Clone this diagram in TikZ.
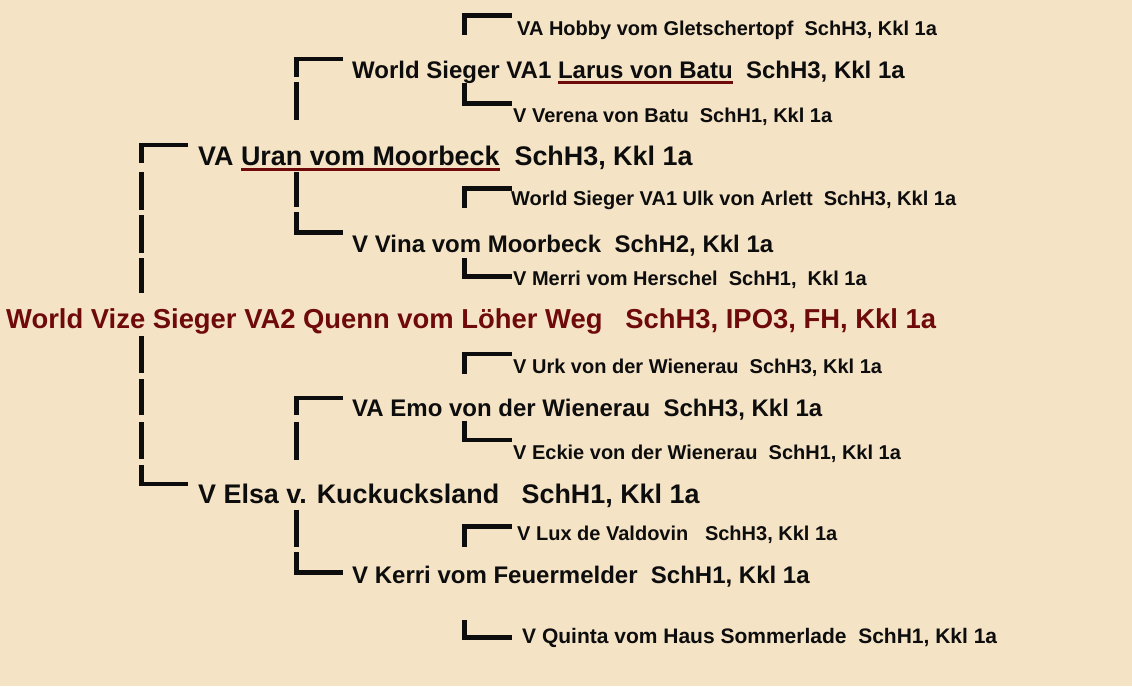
\documentclass[tikz,border=0pt]{standalone}
\usepackage{fontspec}
\setmainfont{Liberation Sans}
\definecolor{bgcream}{HTML}{F5E3C6}
\definecolor{darkred}{HTML}{6E0A0A}
\definecolor{ink}{HTML}{0D0D0D}
\newcommand{\redline}[1]{\sbox0{#1}\rlap{\color{darkred}\rule[-5.8pt]{\wd0}{2.8pt}}\usebox0}

\begin{document}
\begin{tikzpicture}[
        x=1pt, y=-1pt,
        dogname/.style={anchor=base west, inner sep=0pt, text=ink},
        dog/.style={dogname, font=\fontsize{27.4}{32}\selectfont\bfseries, text=darkred},
        parent/.style={dogname, font=\fontsize{26.9}{32}\selectfont\bfseries},
        grand/.style={dogname, font=\fontsize{24}{29}\selectfont\bfseries},
        great/.style={dogname, font=\fontsize{20}{24}\selectfont\bfseries},
        bar/.style={draw=ink, line width=4.5pt, line cap=butt}
    ]
        \fill[bgcream] (0,0) rectangle (1132,686);
        \useasboundingbox (0,0) rectangle (1132,686);

        % generations, left to right
        \node[dog] (quenn) at (6,328) {World Vize Sieger VA2 Quenn vom Löher Weg~~~SchH3, IPO3, FH, Kkl 1a};
        \node[parent] (uran) at (198,165) {VA \redline{Uran vom Moorbeck}~~SchH3, Kkl 1a};
        \node[parent] (elsa) at (198,503) {V Elsa v. Kuckucksland~~~SchH1, Kkl 1a};
        \node[grand] (larus) at (352,78) {World Sieger VA1 \redline{Larus von Batu}~~SchH3, Kkl 1a};
        \node[grand] (vina) at (352,252) {V Vina vom Moorbeck~~SchH2, Kkl 1a};
        \node[grand] (emo) at (352,416) {VA Emo von der Wienerau~~SchH3, Kkl 1a};
        \node[grand] (kerri) at (352,583) {V Kerri vom Feuermelder~~SchH1, Kkl 1a};
        \node[great] (hobby) at (517,35) {VA Hobby vom Gletschertopf~~SchH3, Kkl 1a};
        \node[great] (verena) at (513,122) {V Verena von Batu~~SchH1, Kkl 1a};
        \node[great] (ulk) at (511,205) {World Sieger VA1 Ulk von Arlett~~SchH3, Kkl 1a};
        \node[great] (merri) at (513,285) {V Merri vom Herschel~~SchH1,~~Kkl 1a};
        \node[great] (urk) at (513,373) {V Urk von der Wienerau~~SchH3, Kkl 1a};
        \node[great] (eckie) at (513,459) {V Eckie von der Wienerau~~SchH1, Kkl 1a};
        \node[great] (lux) at (517,540) {V Lux de Valdovin~~~SchH3, Kkl 1a};
        \node[great, font=\fontsize{21}{25}\selectfont\bfseries] (quinta) at (522,643) {V Quinta vom Haus Sommerlade~~SchH1, Kkl 1a};

        % sire and dam of Quenn
        \draw[bar] ([shift={(-10,-20)}]uran.base west) -| ++(-46.5,18);
        \foreach \a/\b in {172/210, 215/253, 258/293, 336/373, 379/415, 422/459}
            \draw[bar] (141.5,\a) -- (141.5,\b);
        \draw[bar] ([shift={(-56.5,-38)}]elsa.base west) |- ++(46.5,19);

        % parents of Uran and Elsa
        \draw[bar] ([shift={(-9,-19)}]larus.base west) -| ++(-46.5,18);
        \draw[bar] ([shift={(-55.5,-40)}]vina.base west) |- ++(46.5,20.5);
        \draw[bar] ([shift={(-9,-18)}]emo.base west) -| ++(-46.5,17);
        \draw[bar] ([shift={(-55.5,-31)}]kerri.base west) |- ++(46.5,20.5);
        \foreach \a/\b in {82/120, 172/207, 422/460, 510/547}
            \draw[bar] (296.5,\a) -- (296.5,\b);

        % third generation
        \draw[bar] ([shift={(-5.5,-19.5)}]hobby.base west) -| ++(-47,19.5);
        \draw[bar] ([shift={(-48.5,-39)}]verena.base west) |- ++(47,20.5);
        \draw[bar] ([shift={(0.5,-16.5)}]ulk.base west) -| ++(-47,19.5);
        \draw[bar] ([shift={(-48.5,-27)}]merri.base west) |- ++(47,18.5);
        \draw[bar] ([shift={(-1.5,-19)}]urk.base west) -| ++(-47,20);
        \draw[bar] ([shift={(-48.5,-38)}]eckie.base west) |- ++(47,19);
        \draw[bar] ([shift={(-5.5,-13.5)}]lux.base west) -| ++(-47,20.5);
        \draw[bar] ([shift={(-57.5,-23)}]quinta.base west) |- ++(47,17.5);
    \end{tikzpicture}
\end{document}
